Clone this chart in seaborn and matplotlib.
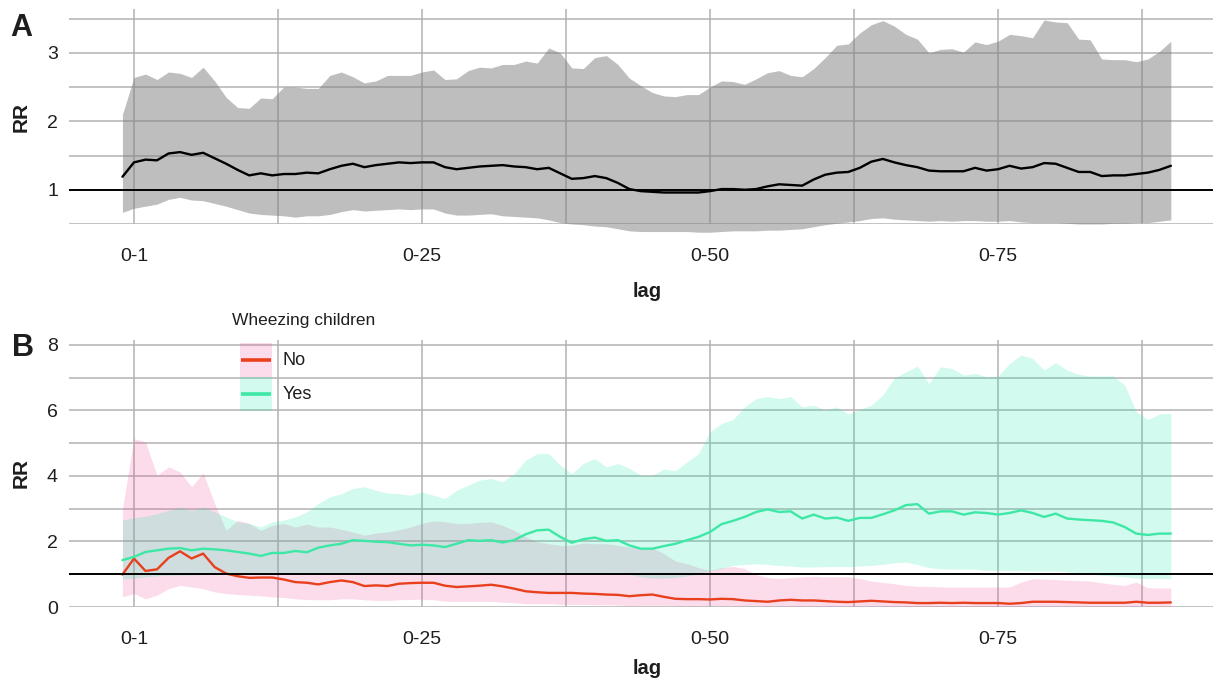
import numpy as np
import pandas as pd
import matplotlib
matplotlib.use("Agg")
import matplotlib.pyplot as plt
from matplotlib.ticker import FixedLocator
from matplotlib.patches import Rectangle
from matplotlib.lines import Line2D
from matplotlib.legend_handler import HandlerBase
import seaborn as sns

# ---------------------------------------------------------------- data
# cumulative lag index (0 = lag 0-1)
lag_pos = list(range(-1, 91))
tick_pos = [0, 25, 50, 75]
tick_labels = ["0-1", "0-25", "0-50", "0-75"]
minor_pos = [12.5, 37.5, 62.5, 87.5]

# Panel A: all children
rr_all = [1.19, 1.40, 1.44, 1.43, 1.53, 1.55, 1.51, 1.54, 1.46, 1.38,
          1.29, 1.21, 1.24, 1.21, 1.23, 1.23, 1.25, 1.24, 1.30, 1.35,
          1.38, 1.33, 1.36, 1.38, 1.40, 1.39, 1.40, 1.40, 1.33, 1.30,
          1.32, 1.34, 1.35, 1.36, 1.34, 1.33, 1.30, 1.32, 1.24, 1.16,
          1.17, 1.20, 1.17, 1.10, 1.01, 0.98,
          0.97, 0.96, 0.96, 0.96, 0.96, 0.98, 1.01, 1.01, 1.00, 1.01,
          1.05, 1.08, 1.07, 1.06, 1.15, 1.22, 1.25, 1.26, 1.32, 1.41,
          1.45, 1.40, 1.36, 1.33, 1.28, 1.27, 1.27, 1.27, 1.32, 1.28,
          1.30, 1.35, 1.31, 1.33, 1.39, 1.38, 1.32, 1.26, 1.26, 1.20,
          1.21, 1.21, 1.23, 1.25, 1.29, 1.35]
rr_all_hi = [2.10, 2.64, 2.69, 2.61, 2.72, 2.70, 2.64, 2.79, 2.59, 2.35,
             2.20, 2.19, 2.34, 2.33, 2.50, 2.50, 2.48, 2.48, 2.67, 2.72,
             2.65, 2.56, 2.59, 2.67, 2.67, 2.67, 2.72, 2.75, 2.61, 2.62,
             2.74, 2.79, 2.78, 2.83, 2.83, 2.88, 2.85, 3.07, 3.00, 2.78,
             2.77, 2.93, 2.96, 2.83, 2.63, 2.52,
             2.42, 2.37, 2.36, 2.39, 2.39, 2.50, 2.59, 2.58, 2.54, 2.62,
             2.71, 2.74, 2.67, 2.65, 2.77, 2.93, 3.11, 3.13, 3.29, 3.41,
             3.47, 3.39, 3.27, 3.20, 3.00, 3.05, 3.06, 3.01, 3.16, 3.12,
             3.17, 3.27, 3.25, 3.22, 3.48, 3.45, 3.44, 3.20, 3.19, 2.91,
             2.90, 2.90, 2.87, 2.91, 3.02, 3.17]
rr_all_lo = [0.67, 0.73, 0.76, 0.79, 0.86, 0.89, 0.85, 0.84, 0.80, 0.76,
             0.71, 0.66, 0.64, 0.63, 0.62, 0.60, 0.62, 0.62, 0.64, 0.68,
             0.71, 0.69, 0.70, 0.71, 0.72, 0.71, 0.72, 0.72, 0.66, 0.63,
             0.63, 0.64, 0.65, 0.62, 0.61, 0.60, 0.59, 0.56, 0.52, 0.50,
             0.49, 0.47, 0.46, 0.43, 0.40, 0.39,
             0.39, 0.39, 0.39, 0.39, 0.38, 0.38, 0.39, 0.40, 0.40, 0.40,
             0.41, 0.41, 0.42, 0.43, 0.46, 0.49, 0.51, 0.53, 0.55, 0.58,
             0.59, 0.57, 0.56, 0.55, 0.54, 0.55, 0.54, 0.55, 0.55, 0.54,
             0.54, 0.55, 0.53, 0.52, 0.52, 0.52, 0.51, 0.50, 0.50, 0.50,
             0.51, 0.51, 0.52, 0.52, 0.54, 0.56]

# Panel B: stratified by wheezing status
rr_no = [0.99, 1.48, 1.10, 1.15, 1.50, 1.70, 1.48, 1.63, 1.22, 1.02,
         0.94, 0.89, 0.90, 0.90, 0.84, 0.76, 0.74, 0.69, 0.76, 0.81,
         0.76, 0.64, 0.66, 0.64, 0.71, 0.73, 0.74, 0.74, 0.65, 0.61,
         0.63, 0.65, 0.68, 0.63, 0.56, 0.48, 0.45, 0.43, 0.43, 0.43,
         0.41, 0.40, 0.38, 0.37, 0.33, 0.36,
         0.38, 0.31, 0.25, 0.24, 0.24, 0.23, 0.25, 0.24, 0.20, 0.18,
         0.16, 0.20, 0.22, 0.20, 0.20, 0.18, 0.16, 0.15, 0.17, 0.19,
         0.17, 0.15, 0.14, 0.12, 0.12, 0.13, 0.12, 0.13, 0.12, 0.12,
         0.12, 0.10, 0.12, 0.16, 0.16, 0.16, 0.15, 0.14, 0.13, 0.13,
         0.13, 0.13, 0.16, 0.13, 0.13, 0.14]
rr_no_hi = [3.00, 5.14, 5.04, 4.02, 4.28, 4.12, 3.67, 4.09, 3.16, 2.34,
            2.65, 2.55, 2.34, 2.49, 2.55, 2.44, 2.53, 2.44, 2.44, 2.37,
            2.29, 2.19, 2.26, 2.29, 2.36, 2.44, 2.55, 2.63, 2.60, 2.55,
            2.55, 2.58, 2.60, 2.49, 2.34, 2.14, 1.99, 1.93, 1.88, 1.88,
            1.96, 1.93, 1.93, 1.88, 1.83, 1.80,
            1.80, 1.63, 1.40, 1.32, 1.20, 1.12, 1.20, 1.24, 1.17, 0.99,
            0.90, 0.87, 0.90, 0.92, 0.94, 0.92, 0.92, 0.92, 0.87, 0.79,
            0.75, 0.71, 0.66, 0.63, 0.63, 0.61, 0.61, 0.61, 0.61, 0.61,
            0.61, 0.61, 0.76, 0.86, 0.85, 0.84, 0.82, 0.81, 0.79, 0.74,
            0.69, 0.66, 0.76, 0.59, 0.58, 0.58]
rr_no_lo = [0.31, 0.41, 0.25, 0.36, 0.56, 0.66, 0.61, 0.56, 0.46, 0.41,
            0.38, 0.36, 0.34, 0.31, 0.29, 0.25, 0.23, 0.22, 0.22, 0.25,
            0.25, 0.22, 0.20, 0.20, 0.22, 0.23, 0.24, 0.22, 0.18, 0.17,
            0.17, 0.17, 0.17, 0.15, 0.13, 0.10, 0.10, 0.10, 0.08, 0.08,
            0.08, 0.07, 0.07, 0.06, 0.04, 0.05,
            0.05, 0.05, 0.04, 0.04, 0.04, 0.04, 0.04, 0.04, 0.03, 0.03,
            0.03, 0.03, 0.03, 0.03, 0.03, 0.03, 0.03, 0.03, 0.03, 0.03,
            0.03, 0.03, 0.02, 0.02, 0.02, 0.02, 0.02, 0.02, 0.02, 0.02,
            0.02, 0.02, 0.02, 0.03, 0.03, 0.03, 0.03, 0.03, 0.03, 0.03,
            0.03, 0.03, 0.03, 0.03, 0.03, 0.03]

rr_yes = [1.43, 1.53, 1.68, 1.73, 1.78, 1.80, 1.73, 1.78, 1.76, 1.73,
          1.68, 1.63, 1.56, 1.65, 1.65, 1.71, 1.67, 1.81, 1.88, 1.93,
          2.04, 2.02, 1.99, 1.98, 1.93, 1.88, 1.90, 1.88, 1.83, 1.93,
          2.04, 2.02, 2.04, 1.97, 2.04, 2.22, 2.34, 2.36, 2.14, 1.96,
          2.07, 2.12, 2.02, 2.04, 1.88, 1.78,
          1.78, 1.86, 1.93, 2.04, 2.14, 2.29, 2.53, 2.63, 2.75, 2.90,
          2.98, 2.90, 2.92, 2.70, 2.82, 2.70, 2.73, 2.63, 2.72, 2.72,
          2.83, 2.95, 3.11, 3.14, 2.85, 2.92, 2.92, 2.82, 2.89, 2.87,
          2.82, 2.87, 2.95, 2.87, 2.75, 2.85, 2.70, 2.67, 2.65, 2.63,
          2.58, 2.44, 2.24, 2.20, 2.24, 2.24]
rr_yes_hi = [2.65, 2.73, 2.77, 2.85, 2.95, 3.05, 2.95, 3.05, 2.90, 2.75,
             2.60, 2.55, 2.44, 2.60, 2.65, 2.75, 2.90, 3.16, 3.36, 3.46,
             3.62, 3.67, 3.56, 3.48, 3.46, 3.41, 3.51, 3.41, 3.31, 3.56,
             3.72, 3.87, 3.92, 3.82, 4.07, 4.48, 4.68, 4.68, 4.33, 4.07,
             4.38, 4.53, 4.28, 4.38, 4.23, 4.02,
             4.02, 4.21, 4.16, 4.43, 4.68, 5.35, 5.60, 5.72, 6.11, 6.36,
             6.42, 6.36, 6.42, 6.11, 6.16, 6.01, 6.11, 5.89, 6.03, 6.16,
             6.47, 6.98, 7.18, 7.35, 6.82, 7.33, 7.28, 7.08, 7.13, 7.03,
             7.05, 7.43, 7.69, 7.59, 7.23, 7.46, 7.23, 7.10, 7.05, 7.05,
             7.05, 6.77, 5.96, 5.72, 5.89, 5.91]
rr_yes_lo = [0.85, 0.88, 0.92, 0.95, 0.97, 0.98, 0.98, 0.99, 1.00, 1.00,
             1.00, 1.00, 1.00, 1.01, 1.01, 1.02, 1.03, 1.04, 1.05, 1.05,
             1.05, 1.05, 1.04, 1.04, 1.03, 1.03, 1.04, 1.05, 1.04, 1.04,
             1.05, 1.05, 1.05, 1.04, 1.04, 1.05, 1.06, 1.06, 1.04, 1.03,
             1.04, 1.05, 1.05, 1.06, 1.00, 0.92,
             0.88, 0.88, 0.90, 0.95, 1.00, 1.10, 1.18, 1.27, 1.30, 1.32,
             1.30, 1.27, 1.25, 1.22, 1.22, 1.23, 1.24, 1.23, 1.25, 1.27,
             1.30, 1.35, 1.37, 1.30, 1.20, 1.17, 1.16, 1.16, 1.15, 1.12,
             1.12, 1.11, 1.11, 1.10, 1.10, 1.10, 1.08, 1.05, 1.00, 0.97,
             0.95, 0.92, 0.88, 0.87, 0.87, 0.86]

groups = ["No", "Yes"]

df_all = pd.DataFrame({"lag": lag_pos, "rr": rr_all,
                       "lo": rr_all_lo, "hi": rr_all_hi})
df_wz = pd.concat([
    pd.DataFrame({"lag": lag_pos, "rr": rr_no, "lo": rr_no_lo,
                  "hi": rr_no_hi, "wheeze": "No"}),
    pd.DataFrame({"lag": lag_pos, "rr": rr_yes, "lo": rr_yes_lo,
                  "hi": rr_yes_hi, "wheeze": "Yes"}),
], ignore_index=True)

# ---------------------------------------------------------------- style
sns.set_theme(style="white")
plt.rcParams["font.family"] = ["Liberation Sans", "DejaVu Sans"]

GRID = "#b3b3b3"
TXT = "#1e1e1e"
LINE_COL = {"No": "#e8401c", "Yes": "#3de8a6"}
FILL_COL = {"No": (240 / 255, 80 / 255, 155 / 255, 0.2),
            "Yes": (30 / 255, 230 / 255, 170 / 255, 0.2)}

W, H = 1213, 681
fig = plt.figure(figsize=(W / 100, H / 100), dpi=100)


def px_axes(left, top, right, bottom):
    return fig.add_axes([left / W, 1 - bottom / H,
                         (right - left) / W, (bottom - top) / H])


axA = px_axes(69, 9, 1225, 224)
axB = px_axes(69, 340, 1225, 607)

# Panel A ribbon + line
axA.fill_between(df_all["lag"], df_all["lo"], df_all["hi"],
                 color="#7f7f7f", alpha=0.5, lw=0, zorder=2, clip_on=False)
sns.lineplot(data=df_all, x="lag", y="rr", color="black", lw=1.7,
             errorbar=None, ax=axA, zorder=3)

# Panel B ribbons + lines
for g in groups:
    sub = df_wz[df_wz["wheeze"] == g]
    axB.fill_between(sub["lag"], sub["lo"], sub["hi"],
                     color=FILL_COL[g], lw=0, zorder=2)
sns.lineplot(data=df_wz, x="lag", y="rr", hue="wheeze", hue_order=groups,
             palette=LINE_COL, lw=1.7, errorbar=None, legend=False,
             ax=axB, zorder=3)

for ax, ylim, ymaj, ymin, xpad in [
        (axA, (0.5, 3.64), [1, 2, 3], [0.5, 1.5, 2.5, 3.5], 12.5),
        (axB, (0, 8.15), [0, 2, 4, 6, 8], [1, 3, 5, 7], 8.5)]:
    ax.set_xlim(-5.64, 94.7)
    ax.set_ylim(*ylim)
    ax.xaxis.set_major_locator(FixedLocator(tick_pos))
    ax.xaxis.set_minor_locator(FixedLocator(minor_pos))
    ax.set_xticklabels(tick_labels)
    ax.yaxis.set_major_locator(FixedLocator(ymaj))
    ax.yaxis.set_minor_locator(FixedLocator(ymin))
    ax.set_yticklabels([f"{v:g}" for v in ymaj])
    ax.grid(True, which="both", color=GRID, lw=1.1, zorder=0)
    ax.set_axisbelow(True)
    for s in ax.spines.values():
        s.set_visible(False)
    ax.axhline(1, color="black", lw=1.4, zorder=4)
    ax.tick_params(axis="x", which="major", length=7, width=1.1,
                   color=GRID, pad=10, labelsize=14, labelcolor=TXT)
    ax.tick_params(axis="x", which="minor", length=0)
    ax.tick_params(axis="y", which="both", length=0, pad=8,
                   labelsize=14, labelcolor=TXT)
    ax.set_xlabel("lag", fontsize=14.5, fontweight="bold", labelpad=xpad,
                  color=TXT)
    ax.set_ylabel("RR", fontsize=15, fontweight="bold", labelpad=12,
                  color=TXT)
    ax.set_facecolor("white")

# panel tags
fig.text(10 / W, 1 - 28 / H, "A", fontsize=22, fontweight="bold",
         ha="left", va="center", color=TXT)
fig.text(12 / W, 1 - 348 / H, "B", fontsize=22, fontweight="bold",
         ha="left", va="center", color=TXT)


# legend for panel B: filled key with a centred line across it
class RibbonKey(HandlerBase):
    def create_artists(self, legend, orig_handle, xdescent, ydescent,
                       width, height, fontsize, trans):
        fill, col = orig_handle
        x0, y0 = -xdescent, -ydescent
        rect = Rectangle((x0, y0), width, height, facecolor=fill,
                         edgecolor="none", transform=trans)
        yc = y0 + height / 2
        line = Line2D([x0 + 1, x0 + width - 1], [yc, yc], color=col,
                      lw=2.6, solid_capstyle="butt", transform=trans)
        return [rect, line]


handles = [(FILL_COL[g], LINE_COL[g]) for g in groups]
fig.text(232 / W, 1 - 321 / H, "Wheezing children", fontsize=12.5,
         ha="left", va="center", color=TXT)
fig.legend(handles, groups, handler_map={tuple: RibbonKey()},
           loc="upper left", bbox_to_anchor=(240 / W, 1 - 343 / H),
           frameon=False, borderpad=0, borderaxespad=0,
           handlelength=1.77, handleheight=2.52, labelspacing=0,
           handletextpad=0.61, fontsize=13, labelcolor=TXT)

fig.savefig("out.png", dpi=100, facecolor="white")
